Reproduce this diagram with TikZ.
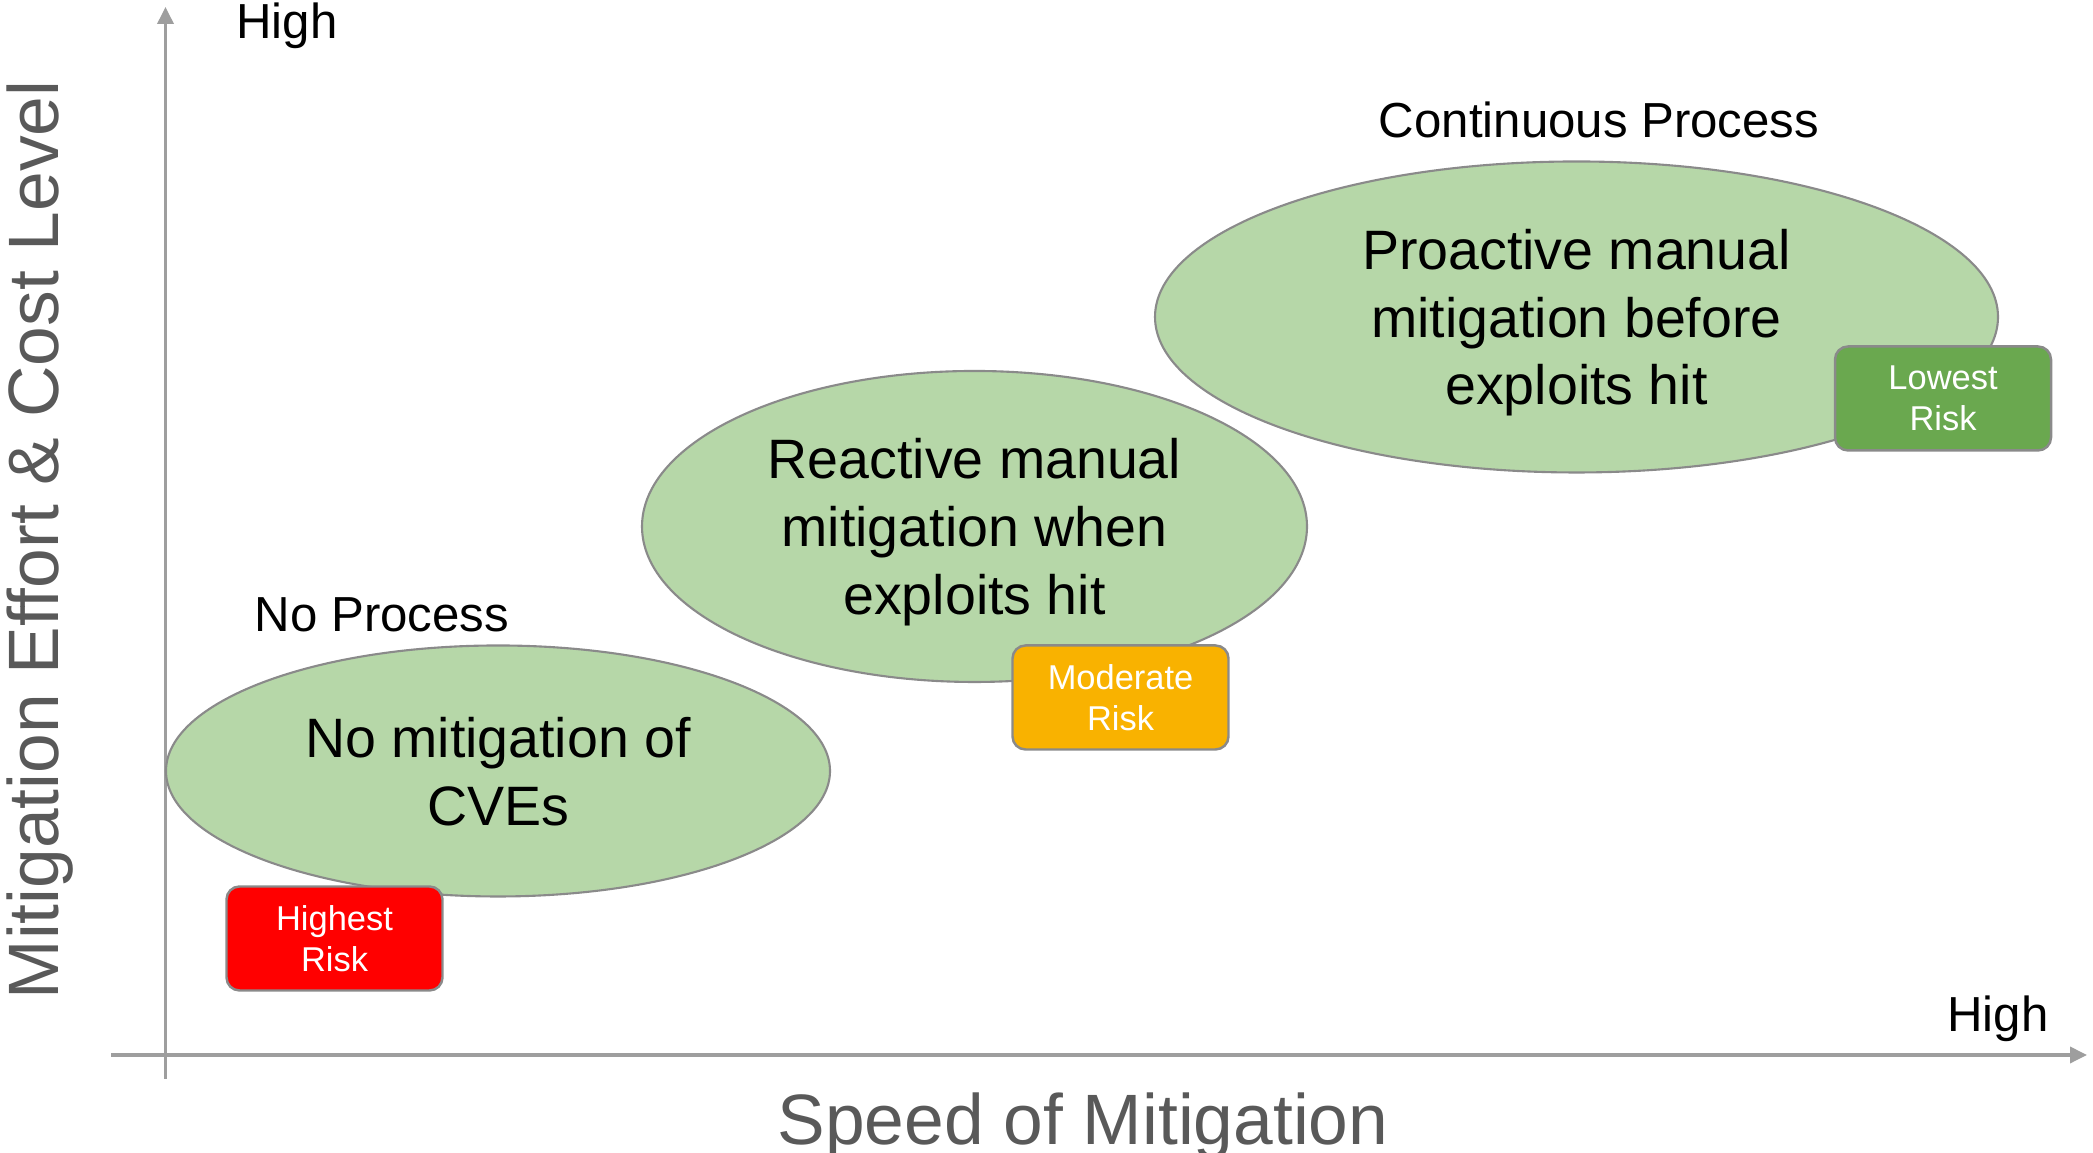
\documentclass[tikz,border=0pt]{standalone}
\usepackage{fontspec}
\setmainfont{Liberation Sans}
\usepackage{tikz}
\usetikzlibrary{arrows.meta,shapes.geometric}

\definecolor{axisgray}{HTML}{9E9E9E}
\definecolor{labelgray}{HTML}{595959}
\definecolor{edgegray}{HTML}{8A8A8A}
\definecolor{blobgreen}{HTML}{B6D7A8}
\definecolor{riskred}{HTML}{FF0000}
\definecolor{riskamber}{HTML}{F9B200}
\definecolor{riskgreen}{HTML}{6AA84F}

\begin{document}
        \begin{tikzpicture}[
            axis/.style={draw=axisgray, line width=1pt, -{Triangle[length=0.17cm,width=0.16cm]}},
            blob/.style={ellipse, draw=edgegray, line width=0.6pt, fill=blobgreen, inner sep=0pt,
                text depth=0pt, align=center, font=\fontsize{15.8}{19.3}\selectfont},
            riskbox/.style={draw=edgegray, line width=0.7pt, rounded corners=0.13cm, inner sep=0pt,
                align=center, text=white, font=\fontsize{9.8}{11.8}\selectfont,
                minimum width=2.16cm, minimum height=1.04cm},
            tag/.style={anchor=base, font=\fontsize{14}{16}\selectfont},
            axislabel/.style={anchor=base, text=labelgray, font=\fontsize{20.3}{24}\selectfont}
            ]
            \useasboundingbox (0,0) rectangle (20.93,11.53);
            % axes
            \coordinate (xstart) at (1.11,0.98);
            \coordinate (xend) at (20.87,0.98);
            \coordinate (ystart) at (1.655,0.74);
            \coordinate (yend) at (1.655,11.46);
            \draw[axis] (xstart)--(xend);
            \draw[axis] (ystart)--(yend);
            \node[axislabel] (xlabel) at (10.83,0.08) {Speed of Mitigation};
            \node[axislabel, rotate=90] (ylabel) at (0.59,6.13) {Mitigation Effort \& Cost Level};
            \node[tag] (yhigh) at (2.87,11.14) {High};
            \node[tag] (xhigh) at (19.98,1.21) {High};
            % stages
            \node[blob, minimum width=6.64cm, minimum height=2.51cm] (none) at (4.98,3.82)
                {No mitigation of\\CVEs};
            \node[blob, minimum width=6.65cm, minimum height=3.11cm] (reactive) at (9.745,6.265)
                {Reactive manual\\mitigation when\\exploits hit};
            \node[blob, minimum width=8.43cm, minimum height=3.11cm] (proactive) at (15.765,8.36)
                {Proactive manual\\mitigation before\\exploits hit};
            \node[tag] (noproc) at (3.82,5.21) {No Process};
            \node[tag] (contproc) at (15.99,10.15) {Continuous Process};
            % risk levels
            \node[riskbox, fill=riskred] (highest) at (3.345,2.145) {Highest\\Risk};
            \node[riskbox, fill=riskamber] (moderate) at (11.205,4.555) {Moderate\\Risk};
            \node[riskbox, fill=riskgreen] (lowest) at (19.43,7.545) {Lowest\\Risk};
        \end{tikzpicture}
\end{document}
